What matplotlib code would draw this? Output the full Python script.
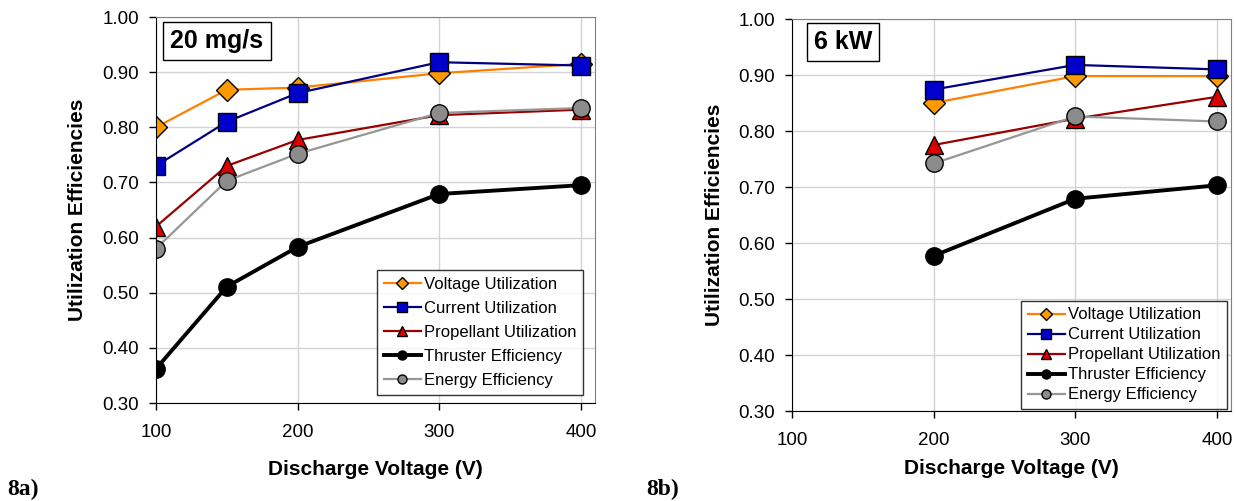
import matplotlib
matplotlib.use("Agg")
from matplotlib import pyplot as plt

plt.rcParams['font.family'] = ['Liberation Sans', 'DejaVu Sans']

# --- data ---
volts_a = [100, 150, 200, 300, 400]
voltage_a = [0.800, 0.868, 0.872, 0.898, 0.915]
current_a = [0.730, 0.810, 0.862, 0.918, 0.912]
propellant_a = [0.620, 0.730, 0.777, 0.822, 0.832]
thruster_a = [0.362, 0.511, 0.583, 0.679, 0.695]
energy_a = [0.580, 0.703, 0.752, 0.826, 0.835]

volts_b = [200, 300, 400]
voltage_b = [0.850, 0.898, 0.898]
current_b = [0.874, 0.918, 0.910]
propellant_b = [0.775, 0.822, 0.861]
thruster_b = [0.577, 0.679, 0.703]
energy_b = [0.742, 0.826, 0.817]

names = ["Voltage Utilization", "Current Utilization", "Propellant Utilization",
         "Thruster Efficiency", "Energy Efficiency"]
xticks = [100, 200, 300, 400]
yticks = [0.3, 0.4, 0.5, 0.6, 0.7, 0.8, 0.9, 1.0]

# line colour, marker, marker fill, line width, marker size
styles = [
    ("#FF7F00", "D", "#FF9900", 1.6, 11),
    ("#000080", "s", "#0000CC", 1.6, 13),
    ("#990000", "^", "#DD0000", 1.6, 13),
    ("#000000", "o", "#000000", 2.8, 12.5),
    ("#969696", "o", "#8C8C8C", 1.6, 12.5),
]


def make_panel(ax, x, series, tag, leg_anchor, leg_spacing, ylab_x, xlab_y):
    for y, name, (lc, mk, mf, lw, ms) in zip(series, names, styles):
        ax.plot(x, y, color=lc, lw=lw, marker=mk, markersize=ms,
                markerfacecolor=mf, markeredgecolor="black", markeredgewidth=1,
                label=name)
    ax.set_xlim(100, 410)
    ax.set_ylim(0.3, 1.0)
    ax.set_xticks(xticks)
    ax.set_yticks(yticks)
    ax.set_yticklabels(["%.2f" % v for v in yticks])
    ax.tick_params(axis="both", labelsize=13.5, direction="out", length=5, width=1)
    ax.tick_params(axis="y", pad=7)
    ax.tick_params(axis="x", pad=10)
    ax.grid(True, color="#D4D4D4", lw=1)
    ax.set_axisbelow(True)
    for s in ["top", "right"]:
        ax.spines[s].set_color("#808080")
    for s in ["left", "bottom"]:
        ax.spines[s].set_color("black")
    ax.set_xlabel("Discharge Voltage (V)", fontsize=15, fontweight="bold")
    ax.set_ylabel("Utilization Efficiencies", fontsize=15, fontweight="bold")
    ax.yaxis.set_label_coords(ylab_x, 0.5)
    ax.xaxis.set_label_coords(0.5, xlab_y)

    leg = ax.legend(loc="lower right", bbox_to_anchor=leg_anchor, fontsize=12,
                    frameon=True, fancybox=False, edgecolor="black",
                    handlelength=2.2, handletextpad=0.2, labelspacing=leg_spacing,
                    borderpad=0.4, borderaxespad=0, numpoints=1)
    leg.get_frame().set_linewidth(1)
    for h in leg.get_lines():
        h.set_markersize(6.5)

    ax.text(tag[1], tag[2], tag[0], transform=ax.transAxes, fontsize=18,
            fontweight="bold", ha="center", va="center",
            bbox=dict(boxstyle="square,pad=0.28", facecolor="white",
                      edgecolor="black", lw=1))


fig = plt.figure(figsize=(12.36, 5.01), dpi=100)
ax1 = fig.add_axes([156 / 1236, 98 / 501, 439 / 1236, 386 / 501])
ax2 = fig.add_axes([792 / 1236, 90 / 501, 439 / 1236, 392 / 501])

make_panel(ax1, volts_a, [voltage_a, current_a, propellant_a, thruster_a, energy_a],
           ("20 mg/s", 0.139, 0.938), (0.973, 0.021), 0.55, -0.157, -0.148)
make_panel(ax2, volts_b, [voltage_b, current_b, propellant_b, thruster_b, energy_b],
           ("6 kW", 0.116, 0.941), (0.991, 0.005), 0.3, -0.155, -0.122)

fig.text(7 / 1236, 1 - 489 / 501, "8a)", family=["Liberation Serif", "DejaVu Serif"],
         fontsize=17, fontweight="bold", va="center")
fig.text(646 / 1236, 1 - 489 / 501, "8b)", family=["Liberation Serif", "DejaVu Serif"],
         fontsize=17, fontweight="bold", va="center")

fig.savefig("out.png", dpi=100)
